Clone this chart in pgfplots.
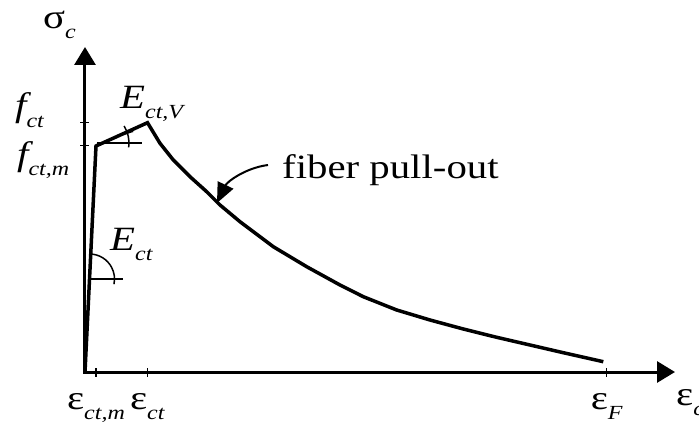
\documentclass[border=0pt]{standalone}
\usepackage{fontspec}
\setmainfont{Liberation Serif}[FakeStretch=1.2]
\usepackage{pgfplots}
\pgfplotsset{compat=1.18}
\usetikzlibrary{arrows.meta}

% lowered italic subscript (kept out of the box height so labels sit tight)
\newcommand{\sub}[1]{\raisebox{-10pt}[0pt][0pt]{\fontsize{20}{22}\selectfont\itshape #1}}
\newcommand{\labelsize}{\fontsize{34}{40}\selectfont}

\begin{document}
\begin{tikzpicture}
\begin{axis}[
  scale only axis, width=590pt, height=325pt,
  xmin=0, xmax=590, ymin=0, ymax=325,
  axis lines=left,
  axis line style={line width=3pt, line cap=rect, -{Triangle[length=18pt,width=21pt]}},
  xtick={11,62.3,521.7},
  xticklabels={{ε\sub{ct,m}},{ε\sub{ct}},{ε\sub{F}}},
  ytick={226.3,249.3},
  yticklabels={},
  tick align=center,
  major tick length=9pt,
  tick style={black, line width=1.5pt},
  xticklabel style={anchor=base, yshift=-33pt, inner sep=0pt, font=\labelsize},
  clip=false,
]
% stress-strain response: linear rise, hardening branch, fiber pull-out softening
\addplot[black, line width=3.5pt, line join=miter] coordinates {
  (0,0) (11,226) (62.5,249.3)
  (75,228.7) (88.3,212) (105,195.3) (121.7,180.3) (135,167) (155,150.3)
  (188.3,125.3) (221.7,105.3) (255,87) (278.3,75.3) (311.7,62) (345,52)
  (378.3,43) (411.7,34.7) (445,27) (478.3,19.3) (518.3,10.3)
};

% angle marks for the two stiffnesses
\draw[line width=1.5pt] (axis cs:12,229) -- (axis cs:57,229);
\draw[line width=1.5pt] ([shift={(-8:32pt)}]axis cs:12,229) arc[start angle=-8, end angle=32, radius=32pt];
\draw[line width=1.5pt] ([shift={(18:26pt)}]axis cs:12,229) -- ([shift={(18:38pt)}]axis cs:12,229);

\draw[line width=1.5pt] (axis cs:4.5,93) -- (axis cs:38,93);
\draw[line width=1.5pt] ([shift={(88:25pt)}]axis cs:4.5,93) arc[start angle=88, end angle=-12, radius=25pt];

% pointer to the softening branch
\draw[line width=2pt, -{Triangle[length=20pt,width=17pt]}]
  (axis cs:183,207) .. controls (axis cs:160,204) and (axis cs:142,190) .. (axis cs:132,169);

% labels
\begin{scope}[every node/.style={anchor=base west, inner sep=0pt, font=\labelsize}]
\node at (axis cs:-42,343) {σ\sub{c}};
\node at (axis cs:-70,255) {{\itshape f}\sub{ct}};
\node at (axis cs:-68,206.5) {{\itshape f}\sub{ct,m}};
\node at (axis cs:35,264) {{\itshape E}\sub{ct,V}};
\node at (axis cs:25,122) {{\itshape E}\sub{ct}};
\node at (axis cs:197,194) {fiber pull-out};
\node at (axis cs:591,-33) {ε\sub{c}};
\end{scope}

\coordinate (bbsw) at (axis cs:-85,-49);
\coordinate (bbne) at (axis cs:614,372);
\end{axis}
\pgfresetboundingbox
\path[use as bounding box] (bbsw) rectangle (bbne);
\end{tikzpicture}
\end{document}
